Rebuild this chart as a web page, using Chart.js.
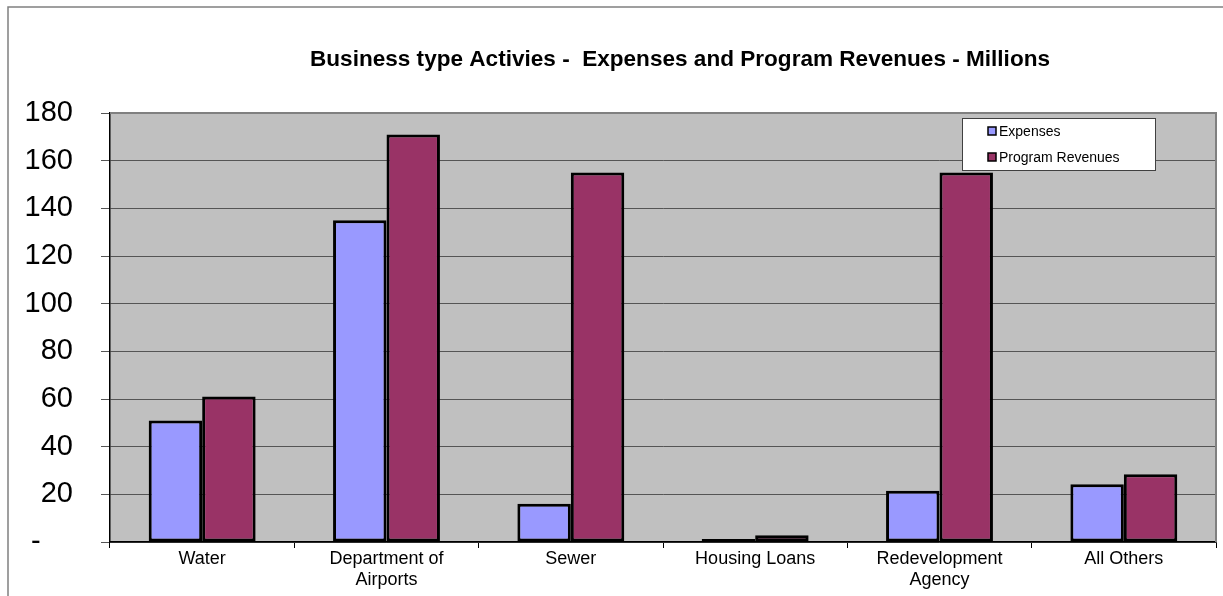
<!DOCTYPE html>
<html>
<head>
<meta charset="utf-8">
<script src="https://cdn.jsdelivr.net/npm/chart.js@4.4.1/dist/chart.umd.min.js"></script>
<style>
  html, body { margin: 0; padding: 0; background: #ffffff; }
  #wrap { width: 1223px; height: 596px; position: relative; }
</style>
</head>
<body>
<div id="wrap"><canvas id="c" width="1223" height="596"></canvas></div>
<script>
const titleText = 'Business type Activies -  Expenses and Program Revenues - Millions';
const categories = ['Water', ['Department of', 'Airports'], 'Sewer', 'Housing Loans', ['Redevelopment', 'Agency'], 'All Others'];
const seriesNames = ['Expenses', 'Program Revenues'];
const expenses = [51, 135, 16, 1.3, 21.5, 24.2];
const programRevenues = [61, 171, 155, 2.8, 155, 28.4];
const yTickValues = [0, 20, 40, 60, 80, 100, 120, 140, 160, 180];
const yTickLabels = ['-', '20', '40', '60', '80', '100', '120', '140', '160', '180'];
const seriesColors = ['#9999FF', '#993366'];

const FONT = '"Liberation Sans", Arial, sans-serif';

const decor = {
  id: 'decor',
  beforeDraw(chart) {
    const { ctx, chartArea: a } = chart;
    ctx.save();
    ctx.strokeStyle = '#808080';
    ctx.lineWidth = 1.5;
    ctx.beginPath();
    ctx.moveTo(8, 596);
    ctx.lineTo(8, 7);
    ctx.lineTo(1223, 7);
    ctx.stroke();
    ctx.fillStyle = '#C0C0C0';
    ctx.fillRect(a.left, a.top, a.right - a.left, a.bottom - a.top);
    ctx.restore();
  },
  afterDraw(chart) {
    const { ctx, chartArea: a } = chart;
    ctx.save();
    ctx.strokeStyle = '#808080';
    ctx.lineWidth = 2;
    ctx.beginPath();
    ctx.moveTo(a.left, a.top);
    ctx.lineTo(a.right, a.top);
    ctx.lineTo(a.right, a.bottom);
    ctx.stroke();
    // title (fit to the reference width)
    ctx.fillStyle = '#000';
    ctx.font = 'bold 22px ' + FONT;
    ctx.textAlign = 'center';
    ctx.textBaseline = 'middle';
    const tw = ctx.measureText(titleText).width;
    const sx = 740 / tw;
    ctx.save();
    ctx.translate(680, 60);
    ctx.scale(sx, 1);
    ctx.fillText(titleText, 0, 0);
    ctx.restore();
    // legend
    const lx = 962.5, ly = 118.5, lw = 193, lh = 52;
    ctx.fillStyle = '#ffffff';
    ctx.fillRect(lx, ly, lw, lh);
    ctx.strokeStyle = '#404040';
    ctx.lineWidth = 1;
    ctx.strokeRect(lx, ly, lw, lh);
    ctx.font = '14px ' + FONT;
    ctx.textAlign = 'left';
    chart.data.datasets.forEach((ds, i) => {
      const cy = 131 + i * 26;
      ctx.fillStyle = ds.backgroundColor;
      ctx.fillRect(988, cy - 4, 8, 8);
      ctx.strokeStyle = '#000';
      ctx.lineWidth = 1.5;
      ctx.strokeRect(988, cy - 4, 8, 8);
      ctx.fillStyle = '#000';
      ctx.fillText(ds.label, 999, cy + 1);
    });
    ctx.restore();
  }
};

new Chart(document.getElementById('c'), {
  type: 'bar',
  data: {
    labels: categories,
    datasets: [
      { label: seriesNames[0], data: expenses, backgroundColor: seriesColors[0], borderColor: '#000', borderWidth: 3, borderSkipped: false },
      { label: seriesNames[1], data: programRevenues, backgroundColor: seriesColors[1], borderColor: '#000', borderWidth: 3, borderSkipped: false }
    ]
  },
  options: {
    responsive: false,
    animation: false,
    devicePixelRatio: 1,
    layout: { padding: { top: 113, right: 7, bottom: 0, left: 0 } },
    datasets: { bar: { categoryPercentage: 0.58, barPercentage: 1.0 } },
    plugins: { legend: { display: false }, title: { display: false }, tooltip: { enabled: false } },
    scales: {
      x: {
        afterFit(s) { s.height = 54; },
        grid: { display: true, drawOnChartArea: false, drawTicks: true, tickLength: 6, color: '#000', offset: true },
        border: { display: true, color: '#000', width: 1.5 },
        ticks: { color: '#000', font: { family: FONT, size: 18, lineHeight: 1.2 }, padding: 0, maxRotation: 0, autoSkip: false }
      },
      y: {
        min: 0, max: 180,
        afterFit(s) { s.width = 110; },
        afterBuildTicks(s) { s.ticks = yTickValues.map(v => ({ value: v })); },
        grid: { display: true, drawOnChartArea: true, drawTicks: true, tickLength: 9, color: '#555555', lineWidth: 1 },
        border: { display: true, color: '#000', width: 1.5 },
        ticks: {
          color: '#000', font: { family: FONT, size: 29 }, padding: 28,
          callback(v) { const i = yTickValues.indexOf(v); return i === 0 ? '-\u2007\u2007' : yTickLabels[i]; }
        }
      }
    }
  },
  plugins: [decor]
});
</script>
</body>
</html>
